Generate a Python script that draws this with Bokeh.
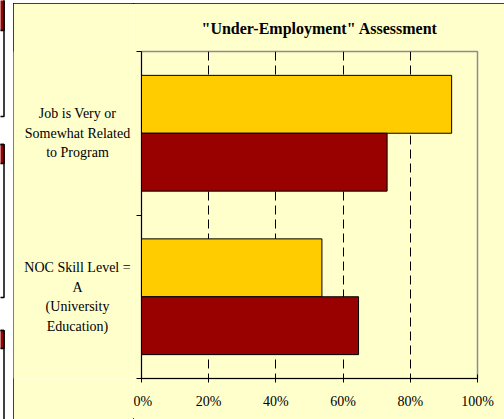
from bokeh.plotting import figure
from bokeh.models import Range1d, FixedTicker, NumeralTickFormatter, ColumnDataSource
from bokeh.layouts import row
from bokeh.embed import file_html
from bokeh.resources import INLINE
from bokeh.core.properties import value

# ---- data ----
categories = [["Job is Very or", "Somewhat Related", "to Program"],
              ["NOC Skill Level =", "A", "(University", "Education)"]]
series_yellow = [0.923, 0.537]
series_red = [0.731, 0.646]
x_ticks = [0, 0.2, 0.4, 0.6, 0.8, 1.0]
title_text = '"Under-Employment" Assessment'

# decorative fragments of neighbouring panels at the left edge (page pixels)
frag_top = [-10, 144, 330]
frag_band = [30, 163, 348]
frag_bottom = [116, 297, 430]

FONT = "Liberation Serif"
BG = "#FFFFCC"
YELLOW = "#FFCC00"
RED = "#990000"
LINE_STEP = 19.5
LABEL_X = 64

n = len(categories)
centers = [i + 0.5 for i in range(n)]
bar_h = 0.354
src = ColumnDataSource(dict(
    y=centers,
    ya=[c - bar_h / 2 for c in centers],
    yb=[c + bar_h / 2 for c in centers],
    a=series_yellow,
    b=series_red,
))

yr = Range1d(n, 0)

# ---- main plot ----
p = figure(width=371, height=416, output_backend="svg", toolbar_location=None,
           x_range=Range1d(0, 1), y_range=yr,
           min_border_left=8, min_border_right=27, min_border_top=47, min_border_bottom=41,
           title=title_text)
p.background_fill_color = BG
p.border_fill_color = BG
p.outline_line_color = "#8c8c8c"
p.outline_line_width = 1.5

p.title.text_font = FONT
p.title.text_font_size = "16px"
p.title.text_font_style = "bold"
p.title.align = "left"
p.title.offset = 60
p.title.standoff = 29
p.title.text_color = "black"

p.hbar(y="ya", left=0, right="a", height=bar_h, source=src,
       fill_color=YELLOW, line_color="black", line_width=1)
p.hbar(y="yb", left=0, right="b", height=bar_h, source=src,
       fill_color=RED, line_color="black", line_width=1)

xa = p.xaxis[0]
xa.ticker = FixedTicker(ticks=x_ticks)
xa.formatter = NumeralTickFormatter(format="0%")
xa.major_label_text_font = FONT
xa.major_label_text_font_size = "14px"
xa.major_label_text_color = "black"
xa.major_label_standoff = 11
xa.major_tick_in = 4
xa.major_tick_out = 4
xa.minor_tick_line_color = None
xa.axis_line_color = "black"
xa.major_tick_line_color = "black"

ya = p.yaxis[0]
ya.ticker = FixedTicker(ticks=list(range(n + 1)))
ya.major_label_overrides = {i: "" for i in range(n + 1)}
ya.major_label_standoff = 0
ya.major_tick_in = 0
ya.major_tick_out = 5
ya.minor_tick_line_color = None
ya.axis_line_color = "black"
ya.major_tick_line_color = "black"

p.xgrid.ticker = FixedTicker(ticks=x_ticks[1:-1])
p.xgrid.grid_line_color = "black"
p.xgrid.grid_line_dash = "9 5"
p.ygrid.visible = False

# ---- category label panel (shares the y range) ----
lab = figure(width=120, height=416, output_backend="svg", toolbar_location=None,
             x_range=Range1d(0, 120), y_range=yr,
             x_axis_type=None, y_axis_type=None,
             min_border_left=0, min_border_right=0, min_border_top=47, min_border_bottom=41)
lab.grid.visible = False
lab.outline_line_color = None
lab.background_fill_color = BG
lab.border_fill_color = BG

txt, ty, toff = [], [], []
for lines, yc in zip(categories, centers):
    k = len(lines)
    for j, line in enumerate(lines):
        txt.append(line)
        ty.append(yc)
        toff.append((j - (k - 1) / 2) * LINE_STEP)
lsrc = ColumnDataSource(dict(text=txt, y=ty, off=toff, x=[LABEL_X] * len(txt)))
lab.text(x="x", y="y", text="text", y_offset="off", source=lsrc,
         text_align="center", text_baseline="middle",
         text_font=value(FONT), text_font_size="14px", text_color="black")

# ---- left strip with fragments of neighbouring panels ----
f0 = figure(width=13, height=419, output_backend="svg", toolbar_location=None,
            x_range=Range1d(0, 13), y_range=Range1d(419, 0), min_border=0,
            x_axis_type=None, y_axis_type=None)
f0.grid.visible = False
f0.outline_line_color = None
f0.background_fill_color = "white"
f0.border_fill_color = "white"
fsrc = ColumnDataSource(dict(t=frag_top, b=frag_band, bb=frag_bottom,
                             l=[-5] * len(frag_top), r=[3.5] * len(frag_top)))
f0.quad(left="l", right="r", top="t", bottom="bb", source=fsrc,
        fill_color="white", line_color="black", line_width=1.5)
f0.quad(left="l", right="r", top="t", bottom="b", source=fsrc,
        fill_color=RED, line_color="black", line_width=1.5)

chart = row(lab, p, margin=(3, 0, 0, 0))
chart.styles = {"outline": "1px solid black", "outline-offset": "-1px"}
layout = row(f0, chart)

open("out.html", "w").write(file_html(layout, INLINE))
